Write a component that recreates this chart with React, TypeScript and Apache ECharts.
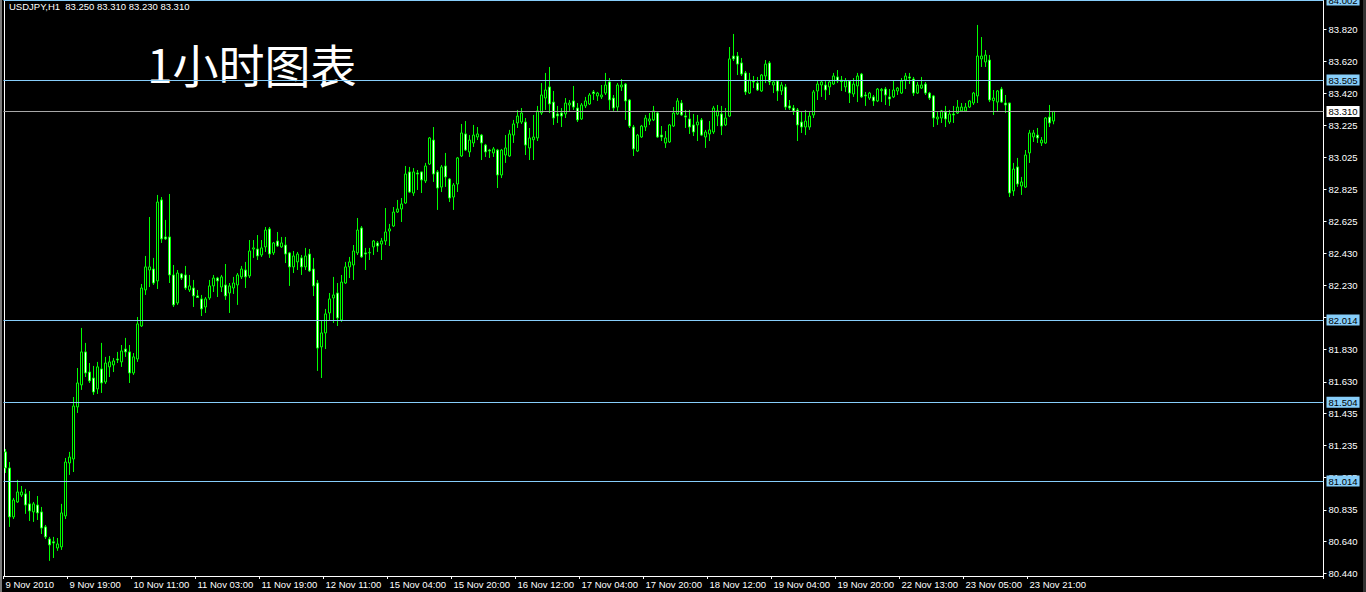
import React, { useEffect, useRef } from 'react';
import * as echarts from 'echarts';

// ---- Data (USDJPY, H1) ----
const opens = [
  81.195, 81.095, 80.791, 80.884, 80.927, 80.934, 80.872, 80.822, 80.865, 80.822,
  80.729, 80.654, 80.636, 80.598, 80.605, 80.797, 81.126, 81.151, 81.474, 81.611,
  81.816, 81.691, 81.654, 81.586, 81.710, 81.629, 81.723, 81.735, 81.772, 81.754,
  81.834, 81.816, 81.685, 81.772, 81.977, 82.201, 82.325, 82.331, 82.257, 82.760,
  82.530, 82.530, 82.294, 82.120, 82.300, 82.294, 82.201, 82.213, 82.164, 82.145,
  82.095, 82.151, 82.226, 82.275, 82.219, 82.232, 82.182, 82.213, 82.232, 82.282,
  82.325, 82.288, 82.455, 82.455, 82.418, 82.468, 82.580, 82.431, 82.505, 82.468,
  82.480, 82.431, 82.344, 82.375, 82.400, 82.344, 82.424, 82.331, 82.244, 81.847,
  81.934, 82.058, 82.151, 82.182, 82.014, 82.244, 82.344, 82.356, 82.431, 82.586,
  82.431, 82.431, 82.468, 82.493, 82.486, 82.505, 82.567, 82.598, 82.685, 82.704,
  82.741, 82.934, 82.803, 82.927, 82.934, 82.878, 82.983, 83.132, 82.934, 82.840,
  82.971, 82.890, 82.778, 82.859, 83.033, 83.170, 83.058, 83.114, 83.151, 83.163,
  83.101, 83.070, 83.052, 83.070, 82.915, 83.039, 83.033, 83.163, 83.238, 83.244,
  83.244, 83.083, 83.134, 83.145, 83.300, 83.393, 83.462, 83.368, 83.294, 83.300,
  83.294, 83.350, 83.375, 83.331, 83.263, 83.344, 83.356, 83.431, 83.406, 83.400,
  83.424, 83.493, 83.393, 83.337, 83.462, 83.480, 83.381, 83.213, 83.064, 83.151,
  83.213, 83.250, 83.257, 83.300, 83.163, 83.114, 83.120, 83.219, 83.294, 83.362,
  83.282, 83.263, 83.226, 83.226, 83.257, 83.151, 83.170, 83.182, 83.282, 83.294,
  83.226, 83.281, 83.654, 83.654, 83.611, 83.549, 83.424, 83.499, 83.486, 83.437,
  83.530, 83.611, 83.474, 83.499, 83.437, 83.462, 83.344, 83.331, 83.319, 83.244,
  83.213, 83.213, 83.288, 83.437, 83.474, 83.474, 83.462, 83.480, 83.524, 83.505,
  83.462, 83.499, 83.418, 83.468, 83.542, 83.412, 83.393, 83.400, 83.375, 83.439,
  83.449, 83.400, 83.400, 83.437, 83.424, 83.505, 83.524, 83.511, 83.424, 83.455,
  83.480, 83.424, 83.406, 83.263, 83.269, 83.306, 83.244, 83.294, 83.300, 83.313,
  83.313, 83.337, 83.362, 83.406, 83.636, 83.617, 83.629, 83.377, 83.368, 83.449,
  83.362, 83.362, 82.816, 82.965, 82.847, 82.840, 83.052, 83.151, 83.163, 83.114,
  83.114, 83.275, 83.250,
];
const highs = [
  81.213, 81.132, 80.909, 81.021, 80.983, 80.965, 80.952, 80.884, 80.921, 80.853,
  80.741, 80.667, 80.667, 80.660, 80.872, 81.157, 81.195, 81.536, 81.716, 81.965,
  81.872, 81.747, 81.729, 81.754, 81.872, 81.785, 81.791, 81.778, 81.816, 81.859,
  81.903, 81.859, 81.809, 82.033, 82.238, 82.412, 82.654, 82.400, 82.791, 82.778,
  82.636, 82.797, 82.356, 82.325, 82.306, 82.350, 82.294, 82.263, 82.201, 82.170,
  82.157, 82.263, 82.294, 82.282, 82.294, 82.362, 82.244, 82.282, 82.306, 82.350,
  82.375, 82.511, 82.511, 82.542, 82.511, 82.592, 82.592, 82.499, 82.561, 82.530,
  82.530, 82.437, 82.443, 82.437, 82.418, 82.462, 82.455, 82.400, 82.263, 82.014,
  82.083, 82.182, 82.282, 82.244, 82.294, 82.375, 82.406, 82.480, 82.648, 82.598,
  82.462, 82.462, 82.511, 82.505, 82.524, 82.710, 82.611, 82.716, 82.760, 82.772,
  82.971, 82.965, 82.958, 82.946, 82.936, 82.990, 83.151, 83.213, 82.946, 82.977,
  83.052, 82.896, 82.865, 83.027, 83.232, 83.250, 83.163, 83.226, 83.213, 83.170,
  83.108, 83.077, 83.089, 83.077, 83.077, 83.163, 83.195, 83.257, 83.319, 83.331,
  83.269, 83.207, 83.288, 83.344, 83.486, 83.549, 83.586, 83.437, 83.344, 83.331,
  83.393, 83.381, 83.468, 83.362, 83.362, 83.400, 83.424, 83.443, 83.431, 83.474,
  83.549, 83.517, 83.412, 83.486, 83.511, 83.486, 83.387, 83.226, 83.170, 83.226,
  83.288, 83.300, 83.344, 83.306, 83.219, 83.188, 83.232, 83.337, 83.393, 83.381,
  83.319, 83.319, 83.294, 83.288, 83.269, 83.195, 83.250, 83.344, 83.350, 83.344,
  83.331, 83.710, 83.791, 83.679, 83.642, 83.561, 83.549, 83.530, 83.524, 83.542,
  83.629, 83.623, 83.505, 83.505, 83.493, 83.480, 83.381, 83.350, 83.331, 83.306,
  83.319, 83.306, 83.443, 83.499, 83.499, 83.505, 83.505, 83.549, 83.567, 83.530,
  83.517, 83.505, 83.517, 83.549, 83.549, 83.431, 83.431, 83.412, 83.455, 83.455,
  83.462, 83.449, 83.505, 83.462, 83.517, 83.549, 83.549, 83.524, 83.493, 83.524,
  83.493, 83.431, 83.412, 83.306, 83.319, 83.344, 83.319, 83.344, 83.381, 83.362,
  83.362, 83.381, 83.431, 83.847, 83.772, 83.691, 83.660, 83.443, 83.443, 83.462,
  83.412, 83.364, 82.990, 83.021, 82.903, 83.070, 83.195, 83.195, 83.207, 83.151,
  83.275, 83.350, 83.310,
];
const lows = [
  81.064, 80.729, 80.778, 80.878, 80.915, 80.810, 80.766, 80.760, 80.772, 80.685,
  80.654, 80.518, 80.536, 80.580, 80.586, 80.778, 81.052, 81.070, 81.437, 81.580,
  81.660, 81.623, 81.549, 81.555, 81.561, 81.617, 81.660, 81.691, 81.747, 81.723,
  81.785, 81.623, 81.673, 81.754, 81.971, 82.170, 82.219, 82.232, 82.207, 82.493,
  82.511, 82.244, 82.095, 82.108, 82.263, 82.201, 82.188, 82.095, 82.151, 82.039,
  82.058, 82.139, 82.188, 82.157, 82.188, 82.139, 82.058, 82.176, 82.108, 82.269,
  82.213, 82.275, 82.400, 82.387, 82.406, 82.437, 82.400, 82.418, 82.468, 82.462,
  82.368, 82.226, 82.306, 82.325, 82.294, 82.325, 82.313, 82.163, 81.698, 81.654,
  81.834, 82.014, 81.996, 81.977, 82.002, 82.238, 82.275, 82.263, 82.418, 82.400,
  82.325, 82.387, 82.418, 82.437, 82.387, 82.480, 82.474, 82.592, 82.679, 82.623,
  82.735, 82.803, 82.785, 82.822, 82.803, 82.865, 82.977, 82.872, 82.698, 82.809,
  82.841, 82.747, 82.698, 82.809, 83.027, 83.064, 83.027, 83.089, 83.132, 83.008,
  83.027, 83.021, 83.027, 82.834, 82.896, 82.990, 83.027, 83.114, 83.207, 83.232,
  83.039, 83.008, 83.008, 83.126, 83.288, 83.319, 83.300, 83.226, 83.238, 83.213,
  83.269, 83.313, 83.319, 83.244, 83.257, 83.331, 83.350, 83.381, 83.375, 83.387,
  83.412, 83.319, 83.313, 83.313, 83.437, 83.257, 83.207, 83.033, 83.058, 83.145,
  83.188, 83.226, 83.250, 83.145, 83.126, 83.083, 83.114, 83.213, 83.288, 83.282,
  83.207, 83.170, 83.157, 83.126, 83.157, 83.083, 83.126, 83.170, 83.219, 83.163,
  83.219, 83.275, 83.623, 83.536, 83.530, 83.412, 83.418, 83.455, 83.437, 83.431,
  83.486, 83.474, 83.424, 83.375, 83.412, 83.319, 83.319, 83.288, 83.126, 83.176,
  83.163, 83.195, 83.269, 83.381, 83.400, 83.381, 83.412, 83.474, 83.486, 83.437,
  83.431, 83.362, 83.400, 83.368, 83.393, 83.344, 83.381, 83.344, 83.368, 83.368,
  83.350, 83.344, 83.393, 83.412, 83.418, 83.449, 83.480, 83.406, 83.418, 83.449,
  83.412, 83.381, 83.213, 83.226, 83.238, 83.213, 83.232, 83.238, 83.294, 83.306,
  83.306, 83.331, 83.350, 83.362, 83.586, 83.586, 83.368, 83.288, 83.306, 83.362,
  83.300, 82.778, 82.785, 82.841, 82.791, 82.834, 82.990, 83.120, 83.114, 83.095,
  83.108, 83.213, 83.230,
];
const closes = [
  81.095, 80.791, 80.896, 80.946, 80.946, 80.865, 80.828, 80.872, 80.816, 80.722,
  80.667, 80.617, 80.629, 80.623, 80.816, 81.132, 81.163, 81.480, 81.623, 81.816,
  81.685, 81.636, 81.567, 81.723, 81.623, 81.747, 81.754, 81.760, 81.766, 81.822,
  81.816, 81.685, 81.785, 81.990, 82.213, 82.344, 82.344, 82.244, 82.747, 82.518,
  82.518, 82.294, 82.108, 82.306, 82.275, 82.213, 82.226, 82.164, 82.154, 82.083,
  82.145, 82.226, 82.275, 82.257, 82.282, 82.164, 82.226, 82.244, 82.294, 82.331,
  82.282, 82.443, 82.462, 82.412, 82.462, 82.573, 82.424, 82.493, 82.474, 82.493,
  82.424, 82.344, 82.412, 82.424, 82.344, 82.412, 82.319, 82.226, 81.840, 81.934,
  82.052, 82.145, 82.170, 82.027, 82.250, 82.344, 82.375, 82.443, 82.573, 82.406,
  82.424, 82.434, 82.505, 82.474, 82.505, 82.561, 82.580, 82.685, 82.704, 82.735,
  82.921, 82.809, 82.934, 82.921, 82.884, 82.971, 83.145, 82.921, 82.834, 82.965,
  82.903, 82.772, 82.853, 83.021, 83.176, 83.070, 83.132, 83.163, 83.170, 83.114,
  83.058, 83.064, 83.077, 82.915, 83.070, 83.083, 83.170, 83.232, 83.281, 83.300,
  83.101, 83.145, 83.151, 83.313, 83.412, 83.443, 83.356, 83.269, 83.282, 83.281,
  83.362, 83.362, 83.337, 83.257, 83.350, 83.375, 83.412, 83.421, 83.424, 83.412,
  83.474, 83.381, 83.331, 83.474, 83.474, 83.375, 83.219, 83.077, 83.163, 83.219,
  83.269, 83.263, 83.313, 83.151, 83.151, 83.145, 83.226, 83.300, 83.375, 83.288,
  83.275, 83.213, 83.182, 83.244, 83.163, 83.182, 83.195, 83.331, 83.313, 83.219,
  83.269, 83.636, 83.636, 83.604, 83.542, 83.431, 83.505, 83.493, 83.443, 83.536,
  83.604, 83.493, 83.493, 83.437, 83.474, 83.337, 83.331, 83.313, 83.226, 83.213,
  83.250, 83.281, 83.431, 83.480, 83.493, 83.443, 83.493, 83.530, 83.499, 83.495,
  83.499, 83.424, 83.480, 83.530, 83.400, 83.406, 83.424, 83.375, 83.449, 83.447,
  83.412, 83.387, 83.443, 83.455, 83.499, 83.530, 83.517, 83.424, 83.474, 83.474,
  83.424, 83.393, 83.269, 83.275, 83.313, 83.263, 83.294, 83.288, 83.337, 83.337,
  83.337, 83.375, 83.424, 83.654, 83.654, 83.660, 83.381, 83.393, 83.437, 83.368,
  83.350, 82.803, 82.952, 82.859, 82.872, 83.039, 83.176, 83.176, 83.145, 83.132,
  83.269, 83.238, 83.310,
];

const priceTicks = [
  83.82, 83.62, 83.42, 83.225, 83.025, 82.825, 82.625, 82.43, 82.23,
  82.03, 81.83, 81.63, 81.435, 81.235, 81.035, 80.835, 80.64, 80.44,
];
const levelLines = [84.002, 83.505, 82.014, 81.504, 81.014];
const currentPrice = 83.31;
const Y_MIN = 80.424;
const Y_MAX = 84.002;

const headerText = 'USDJPY,H1  83.250 83.310 83.230 83.310';
const titleText = '1小时图表';

const TOTAL_SLOTS = 330; // chart width in bars incl. right-side shift
const LABEL_EVERY = 16;
const MONTHS = ['Jan', 'Feb', 'Mar', 'Apr', 'May', 'Jun', 'Jul', 'Aug', 'Sep', 'Oct', 'Nov', 'Dec'];
const FIRST_BAR_UTC = Date.UTC(2010, 10, 9, 3);

function buildSlots(n: number): string[] {
  const out: string[] = [];
  let t = FIRST_BAR_UTC;
  while (out.length < n) {
    const d = new Date(t);
    const dow = d.getUTCDay();
    const h = d.getUTCHours();
    const closed = dow === 6 || dow === 0 || (dow === 5 && h === 23);
    if (!closed) {
      const day = d.getUTCDate();
      const mon = MONTHS[d.getUTCMonth()];
      out.push(
        out.length === 0
          ? `${day} ${mon} ${d.getUTCFullYear()}`
          : `${day} ${mon} ${String(h).padStart(2, '0')}:00`
      );
    }
    t += 3600000;
  }
  return out;
}

const FONT = '"Liberation Sans", Arial, sans-serif';

export default function App() {
  const ref = useRef<HTMLDivElement>(null);

  useEffect(() => {
    document.body.style.margin = '0';
    document.body.style.background = '#000';
    const chart = echarts.init(ref.current!, null, { renderer: 'svg' });
    const barCount = closes.length;
    const categories = buildSlots(TOTAL_SLOTS);
    const candles = closes.map((c, i) => [opens[i], c, lows[i], highs[i]]);
    const showAt = (index: number) => index % LABEL_EVERY === 0 && index < barCount;

    const option: any = {
      animation: false,
      backgroundColor: '#000000',
      grid: { left: 3.5, right: 42.5, top: 0, bottom: 16 },
      xAxis: {
        type: 'category',
        data: categories,
        boundaryGap: true,
        axisLine: { show: true, lineStyle: { color: '#ffffff', width: 1 } },
        axisTick: { show: true, interval: showAt, length: 3, lineStyle: { color: '#ffffff' } },
        axisLabel: {
          interval: showAt,
          align: 'left',
          color: '#ffffff',
          fontSize: 9.5,
          fontFamily: FONT,
          margin: 3,
        },
        splitLine: { show: false },
      },
      yAxis: {
        type: 'value',
        position: 'right',
        min: Y_MIN,
        max: Y_MAX,
        scale: true,
        axisLine: { show: true, lineStyle: { color: '#ffffff', width: 1 } },
        axisTick: { show: true, length: 3, customValues: priceTicks, lineStyle: { color: '#ffffff' } },
        axisLabel: {
          customValues: priceTicks,
          formatter: (v: number) => Number(v).toFixed(3),
          color: '#ffffff',
          fontSize: 9.5,
          fontFamily: FONT,
          margin: 5,
        },
        splitLine: { show: false },
      },
      series: [
        {
          type: 'candlestick',
          data: candles,
          barWidth: 2,
          itemStyle: {
            color: '#000000',
            color0: '#ffffff',
            borderColor: '#00ff00',
            borderColor0: '#00ff00',
            borderWidth: 1,
          },
          markLine: {
            silent: true,
            symbol: ['none', 'none'],
            precision: 3,
            animation: false,
            label: {
              show: true,
              position: 'end',
              distance: 3,
              formatter: (p: any) => Number(p.value).toFixed(3),
              fontSize: 9.5,
              fontFamily: FONT,
              color: '#000000',
              padding: [1, 2, 0, 2],
              lineHeight: 10,
            },
            data: [
              ...levelLines.map((v) => ({
                yAxis: v,
                lineStyle: { color: '#87cefa', width: 1, type: 'solid' },
                label: { backgroundColor: '#87cefa' },
              })),
              {
                yAxis: currentPrice,
                lineStyle: { color: '#a8a8a8', width: 1, type: 'solid' },
                label: { backgroundColor: '#ffffff' },
              },
            ],
          },
        },
      ],
      graphic: [
        { type: 'rect', shape: { x: 0, y: 0, width: 2, height: 592 }, style: { fill: '#7a7a7a' }, silent: true },
        { type: 'line', shape: { x1: 4.5, y1: 0, x2: 4.5, y2: 576 }, style: { stroke: '#ffffff', lineWidth: 1 }, silent: true },
        { type: 'rect', shape: { x: 1363, y: 0, width: 3, height: 592 }, style: { fill: '#333333' }, silent: true },
        {
          type: 'text',
          x: 9,
          y: 6,
          style: {
            text: headerText,
            fill: '#ffffff',
            fontSize: 9.5,
            fontFamily: FONT,
            verticalAlign: 'middle',
          },
          silent: true,
        },
        {
          type: 'text',
          x: 147,
          y: 63,
          style: {
            text: titleText,
            fill: '#ffffff',
            fontSize: 46,
            fontFamily: '"Noto Sans CJK SC", "Noto Sans", sans-serif',
            verticalAlign: 'middle',
          },
          silent: true,
        },
      ],
    };

    chart.setOption(option);
    return () => chart.dispose();
  }, []);

  return <div ref={ref} style={{ width: 1366, height: 592, background: '#000' }} />;
}
